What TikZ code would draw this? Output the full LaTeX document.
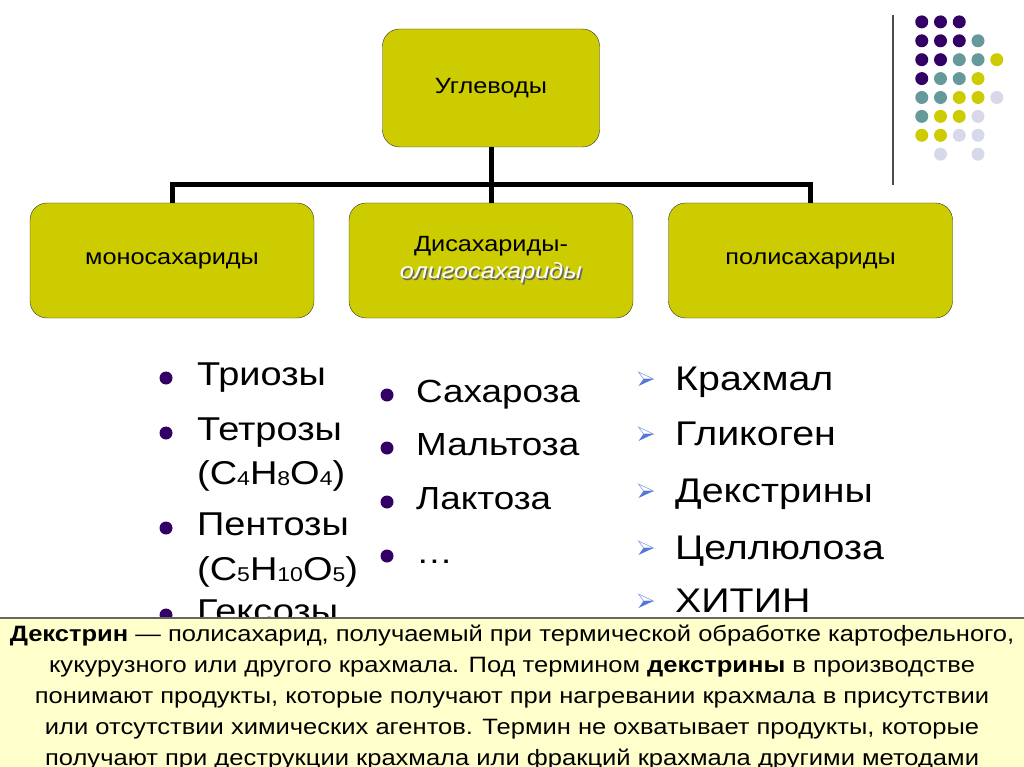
\documentclass[tikz,border=0pt]{standalone}
\usepackage{fontspec}
\setmainfont{Liberation Sans}[FakeStretch=1.15]
\usetikzlibrary{positioning}

\definecolor{boxolive}{HTML}{CCCC00}
\definecolor{bulletpurple}{HTML}{330066}
\definecolor{dotteal}{HTML}{669999}
\definecolor{dotlilac}{HTML}{D8D8EB}
\definecolor{arrowblue}{HTML}{5577DD}
\definecolor{notefill}{HTML}{FFFFCC}

\newcommand\chemsub[1]{\raisebox{-1pt}{\fontsize{20}{20}\selectfont #1}}
\newcommand\whiteshade[1]{\makebox[0pt][l]{\hspace{1.5pt}\raisebox{-1.5pt}{\color{black!60}#1}}{\color{white}#1}}

\begin{document}
\begin{tikzpicture}[x=1pt,y=-1pt]

\tikzset{box/.style = {shape=rectangle, rounded corners=17pt, draw=black!80, fill=boxolive, minimum width=284pt, minimum height=115pt, align=center, font=\fontsize{22}{27}\selectfont}}
\tikzset{link/.style = {line width=5pt, black}}
\tikzset{item/.style = {anchor=base west, inner sep=0pt}}
\tikzset{monoitem/.style = {item, font=\fontsize{33}{38}\selectfont}}
\tikzset{diitem/.style = {item, font=\fontsize{32}{38}\selectfont}}
\tikzset{polyitem/.style = {item, font=\fontsize{34.2}{38}\selectfont}}
\tikzset{dot/.style = {circle, fill=bulletpurple, inner sep=0pt, minimum size=13pt}}
\tikzset{pointer/.pic = {
  \filldraw[draw=arrowblue!70, fill=white, line width=0.6pt] (-7.5,-7) -- (7.5,0) -- (-2.5,0) -- cycle;
  \fill[arrowblue] (-7.5,7) -- (7.5,0) -- (-2.5,0) -- cycle;}}

\useasboundingbox (0,0) rectangle (1024,767);

%boxes
\node[box, minimum width=217pt, minimum height=118pt] (carb) at (491,88) {Углеводы};
\node[box] (mono) at (172,260.5) {моносахариды};
\node[box] (di) at (491,260.5) {Дисахариды-\\ \textit{\whiteshade{олигосахариды}}};
\node[box] (poly) at (810.5,260.5) {полисахариды};

%connectors
\coordinate (fork) at (491,185);
\draw[link] (carb) -- (fork);
\draw[link] (mono) |- (fork) -| (poly);
\draw[link] (fork) -- (di);

%decoration
\draw[black!70, line width=1.5pt] (893,15) -- (893,185);
\foreach \c/\r/\col in {1/1/bulletpurple, 2/1/bulletpurple, 3/1/bulletpurple,
  1/2/bulletpurple, 2/2/bulletpurple, 3/2/bulletpurple, 4/2/dotteal,
  1/3/bulletpurple, 2/3/bulletpurple, 3/3/dotteal, 4/3/dotteal, 5/3/boxolive,
  1/4/bulletpurple, 2/4/dotteal, 3/4/dotteal, 4/4/boxolive,
  1/5/dotteal, 2/5/dotteal, 3/5/boxolive, 4/5/boxolive, 5/5/dotlilac,
  1/6/dotteal, 2/6/boxolive, 3/6/boxolive, 4/6/dotlilac,
  1/7/boxolive, 2/7/boxolive, 3/7/dotlilac, 4/7/dotlilac,
  2/8/dotlilac, 4/8/dotlilac}
  \fill[\col] (903+18.75*\c,3+18.9*\r) circle (6.5);

%monosaccharides
\node[dot] (m1) at (166,378) {};
\node[monoitem] (tri) at (197,385) {Триозы};
\node[dot] (m2) at (166,433) {};
\node[monoitem] (tetra) at (197,440) {Тетрозы};
\node[monoitem] (tetraf) at (197,484) {(C\chemsub{4}H\chemsub{8}O\chemsub{4})};
\node[dot] (m3) at (166,528) {};
\node[monoitem] (penta) at (197,535) {Пентозы};
\node[monoitem] (pentaf) at (197,580) {(C\chemsub{5}H\chemsub{10}O\chemsub{5})};
\node[dot] (m4) at (166,615) {};
\node[monoitem] (hexa) at (197,622) {Гексозы};

%disaccharides
\node[dot] (d1) at (387,395) {};
\node[diitem] (sucr) at (416,402) {Сахароза};
\node[dot] (d2) at (387,448) {};
\node[diitem] (malt) at (416,455) {Мальтоза};
\node[dot] (d3) at (387,502) {};
\node[diitem] (lact) at (416,509) {Лактоза};
\node[dot] (d4) at (387,556) {};
\node[diitem] (etc) at (416,563) {…};

%polysaccharides
\pic at (646,379) {pointer};
\node[polyitem] (starch) at (675,390) {Крахмал};
\pic at (646,434) {pointer};
\node[polyitem] (glyc) at (675,445) {Гликоген};
\pic at (646,491) {pointer};
\node[polyitem] (dextr) at (675,502) {Декстрины};
\pic at (646,548) {pointer};
\node[polyitem] (cell) at (675,559) {Целлюлоза};
\pic at (646,601) {pointer};
\node[polyitem] (chit) at (675,612) {ХИТИН};

%note
\node[draw=black!60, line width=2pt, fill=notefill, minimum width=1030pt, minimum height=170pt, anchor=north, inner sep=0pt] (note) at (512,617) {};
\node[anchor=north, align=center, inner sep=0pt, font=\fontsize{22.2}{31}\selectfont] (defn) at (512,625)
  {\textbf{Декстрин} — полисахарид, получаемый при термической обработке картофельного,\\
   кукурузного или другого крахмала. Под термином \textbf{декстрины} в производстве\\
   понимают продукты, которые получают при нагревании крахмала в присутствии\\
   или отсутствии химических агентов. Термин не охватывает продукты, которые\\
   получают при деструкции крахмала или фракций крахмала другими методами};

\end{tikzpicture}
\end{document}
